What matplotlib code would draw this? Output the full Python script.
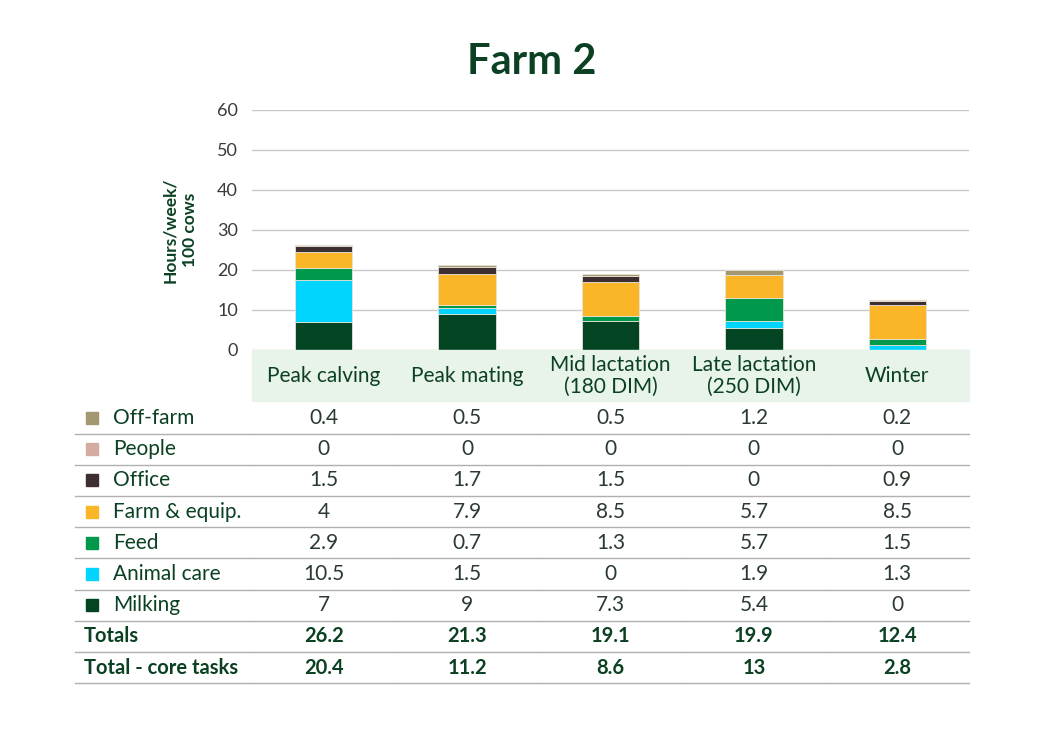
import matplotlib
matplotlib.use("Agg")
import matplotlib.pyplot as plt
import matplotlib.transforms as mtransforms
from matplotlib.patches import Rectangle
import numpy as np

plt.rcParams['font.family'] = ['Lato', 'DejaVu Sans']

categories = ["Peak calving", "Peak mating", "Mid lactation\n(180 DIM)", "Late lactation\n(250 DIM)", "Winter"]
series_names = ["Milking", "Animal care", "Feed", "Farm & equip.", "Office", "People", "Off-farm"]
milking = [7, 9, 7.3, 5.4, 0]
animal_care = [10.5, 1.5, 0, 1.9, 1.3]
feed = [2.9, 0.7, 1.3, 5.7, 1.5]
farm_equip = [4, 7.9, 8.5, 5.7, 8.5]
office = [1.5, 1.7, 1.5, 0, 0.9]
people = [0, 0, 0, 0, 0]
off_farm = [0.4, 0.5, 0.5, 1.2, 0.2]
totals = ["26.2", "21.3", "19.1", "19.9", "12.4"]
core_totals = ["20.4", "11.2", "8.6", "13", "2.8"]
yticks = [0, 10, 20, 30, 40, 50, 60]

colors = ["#034522", "#00d4ff", "#00984a", "#fbb627", "#3d2f2f", "#d4aba1", "#a39870"]
series = [milking, animal_care, feed, farm_equip, office, people, off_farm]

DARK = "#0b4122"
TXT = "#2b3a30"

fig = plt.figure(figsize=(10.63, 7.5), dpi=100)
W, H = 1063, 750
ax = fig.add_axes([252 / W, 1 - 350 / H, (969 - 252) / W, 240 / H])
x = np.arange(len(categories))
bottom = np.zeros(len(categories))
for vals, col in zip(series, colors):
    v = np.array(vals, dtype=float)
    ax.bar(x, v, bottom=bottom, width=0.4, color=col, edgecolor="#e8e2d8", linewidth=0.6, zorder=3)
    bottom += v
ax.set_xlim(-0.5, len(categories) - 0.5)
ax.set_ylim(0, 60)
ax.set_yticks(yticks)
ax.set_yticklabels([str(t) for t in yticks], fontsize=13, color="#3a3a3a")
ax.set_xticks([])
ax.grid(axis="y", color="#c8c8c8", linewidth=1, zorder=0)
for s in ax.spines.values():
    s.set_visible(False)
ax.tick_params(axis="y", length=0, pad=10)
ax.set_ylabel("Hours/week/\n100 cows", fontsize=12.5, fontweight="bold", color=DARK, labelpad=14, linespacing=1.3)

fig.text(532 / W, 1 - 62 / H, "Farm 2", ha="center", va="center", fontsize=30, fontweight="bold", color=DARK)

# overlay in pixel coords
ov = fig.add_axes([0, 0, 1, 1])
ov.set_xlim(0, W)
ov.set_ylim(H, 0)
ov.axis("off")
ov.patch.set_alpha(0)
trans = mtransforms.blended_transform_factory(ax.transData, ov.transData)

ov.add_patch(Rectangle((-0.5, 350), len(categories), 51, transform=trans, color="#e8f4ea", zorder=1))
for i, c in enumerate(categories):
    ov.text(i, 376, c, transform=trans, ha="center", va="center", fontsize=15, color=DARK, linespacing=1.1)

row_labels = ["Off-farm", "People", "Office", "Farm & equip.", "Feed", "Animal care", "Milking"]
row_vals = [off_farm, people, office, farm_equip, feed, animal_care, milking]
row_cols = [colors[6], colors[5], colors[4], colors[3], colors[2], colors[1], colors[0]]
row_h = 31.2
y0 = 418
for r, (lab, vals, col) in enumerate(zip(row_labels, row_vals, row_cols)):
    yc = y0 + r * row_h
    ov.add_patch(Rectangle((86, yc - 6), 12, 12, color=col))
    ov.text(113, yc, lab, ha="left", va="center", fontsize=15, color=DARK)
    for i, v in enumerate(vals):
        ov.text(i, yc, f"{v:g}", transform=trans, ha="center", va="center", fontsize=15, color=TXT)

for r, (lab, vals) in enumerate([("Totals", totals), ("Total - core tasks", core_totals)]):
    yc = y0 + (7 + r) * row_h
    ov.text(84, yc, lab, ha="left", va="center", fontsize=14.5, fontweight="bold", color=DARK)
    for i, v in enumerate(vals):
        ov.text(i, yc, v, transform=trans, ha="center", va="center", fontsize=14.5, fontweight="bold", color=DARK)

for r in range(9):
    yl = y0 + row_h / 2 + r * row_h
    ov.plot([75, 251], [yl, yl], color="#b0b0b0", linewidth=1)
    for i in range(len(categories)):
        ov.plot([i - 0.497, i + 0.497], [yl, yl], transform=trans, color="#b0b0b0", linewidth=1)

fig.savefig("out.png", dpi=100, facecolor="white")
